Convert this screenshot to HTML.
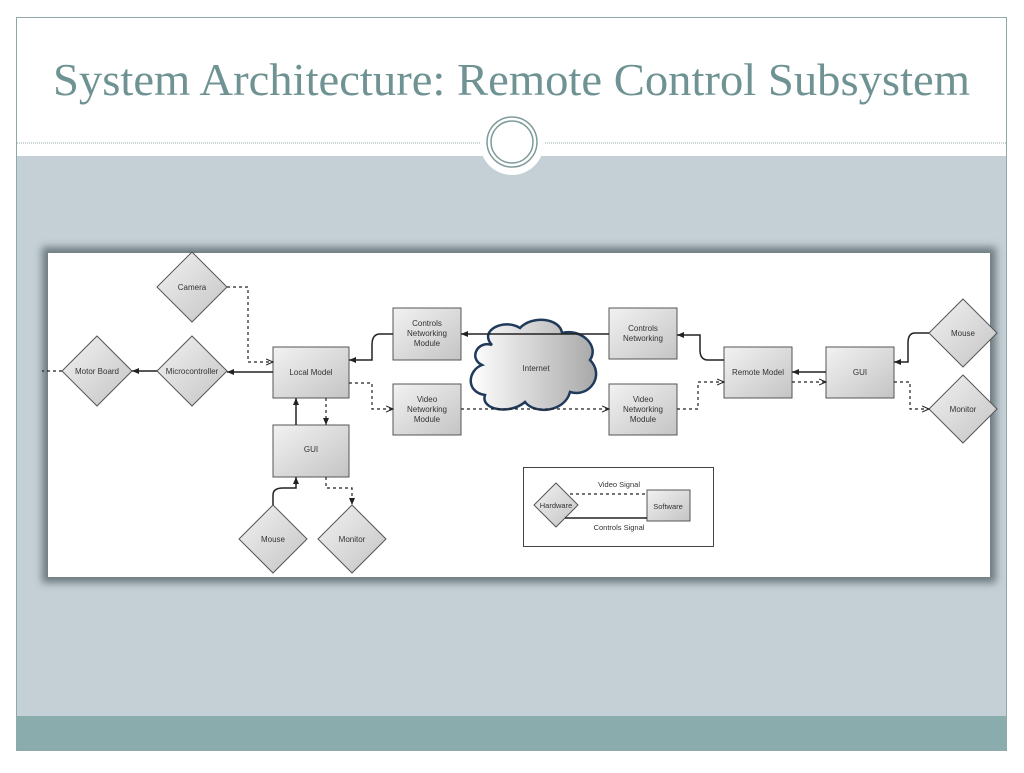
<!DOCTYPE html>
<html><head><style>
body{margin:0;width:1024px;height:768px;background:#fff;overflow:hidden;font-family:"Liberation Sans",sans-serif}
</style></head><body>
<svg width="1024" height="768" viewBox="0 0 1024 768" xmlns="http://www.w3.org/2000/svg">
<defs>
<linearGradient id="g" x1="0" y1="0" x2="1" y2="1"><stop offset="0" stop-color="#f2f2f2"/><stop offset="1" stop-color="#c4c4c4"/></linearGradient>
<linearGradient id="cg" x1="0" y1="0" x2="1" y2="0"><stop offset="0" stop-color="#ffffff"/><stop offset="1" stop-color="#a8a8a8"/></linearGradient>
<filter id="bl"><feGaussianBlur stdDeviation="4"/></filter>
<marker id="a" markerWidth="8" markerHeight="8" refX="7" refY="4" orient="auto" markerUnits="userSpaceOnUse"><path d="M0,1 L7,4 L0,7 Z" fill="#222"/></marker>
<marker id="o" markerWidth="8" markerHeight="8" refX="7" refY="4" orient="auto" markerUnits="userSpaceOnUse"><path d="M0,1 L7,4 L0,7" fill="none" stroke="#222" stroke-width="1"/></marker>
</defs>
<rect x="16.5" y="17.5" width="990" height="733" fill="#fff" stroke="#8fa9a9"/>
<rect x="17" y="156" width="989" height="560" fill="#c4d0d6"/>
<rect x="17" y="716" width="989" height="34" fill="#8aacac"/>
<line x1="17" y1="143" x2="1006" y2="143" stroke="#9aabab" stroke-dasharray="1,1"/>
<circle cx="512" cy="143" r="32" fill="#fff"/>
<circle cx="512" cy="142" r="25" fill="none" stroke="#7f9a9a" stroke-width="1.5"/>
<circle cx="512" cy="142" r="21" fill="none" stroke="#7f9a9a" stroke-width="1.5"/>
<text x="53" y="95" textLength="917" lengthAdjust="spacingAndGlyphs" font-family="Liberation Serif,serif" font-size="45" fill="#6f9292">System Architecture: Remote Control Subsystem</text>
<rect x="42" y="247" width="954" height="336" fill="#6d7a80" filter="url(#bl)"/>
<rect x="48" y="253" width="942" height="324" fill="#fff"/>
<g stroke="#555" stroke-width="1" fill="url(#g)">
<polygon points="192,252 227,287 192,322 157,287"/>
<polygon points="97,336 132,371 97,406 62,371"/>
<polygon points="192,336 227,371 192,406 157,371"/>
<rect x="273" y="347" width="76" height="51"/>
<rect x="273" y="425" width="76" height="52"/>
<polygon points="273,505 307,539 273,573 239,539"/>
<polygon points="352,505 386,539 352,573 318,539"/>
<rect x="393" y="308" width="68" height="52"/>
<rect x="393" y="384" width="68" height="51"/>
<rect x="609" y="308" width="68" height="51"/>
<rect x="609" y="384" width="68" height="51"/>
<rect x="724" y="347" width="68" height="51"/>
<rect x="826" y="347" width="68" height="51"/>
<polygon points="963,299 997,333 963,367 929,333"/>
<polygon points="963,375 997,409 963,443 929,409"/>
</g>
<path d="M492,345 C478,330 505,318 520,328 C532,315 560,318 562,333 C580,328 600,345 590,360 C605,375 590,398 570,392 C565,412 535,415 525,402 C510,415 480,410 485,395 C465,392 468,370 482,365 C468,358 478,340 492,345 Z" fill="url(#cg)" stroke="#1f3a5a" stroke-width="2.5"/>
<g font-size="8" fill="#333" text-anchor="middle">
<text x="192" y="290">Camera</text>
<text x="97" y="374">Motor Board</text>
<text x="192" y="374">Microcontroller</text>
<text x="311" y="375">Local Model</text>
<text x="311" y="452">GUI</text>
<text x="273" y="542">Mouse</text>
<text x="352" y="542">Monitor</text>
<text x="427" y="326">Controls</text><text x="427" y="336">Networking</text><text x="427" y="346">Module</text>
<text x="427" y="402">Video</text><text x="427" y="412">Networking</text><text x="427" y="422">Module</text>
<text x="536" y="371">Internet</text>
<text x="643" y="331">Controls</text><text x="643" y="341">Networking</text>
<text x="643" y="402">Video</text><text x="643" y="412">Networking</text><text x="643" y="422">Module</text>
<text x="758" y="375">Remote Model</text>
<text x="860" y="375">GUI</text>
<text x="963" y="336">Mouse</text>
<text x="963" y="412">Monitor</text>
</g>
<g fill="none" stroke="#222" stroke-width="1.5">
<path d="M273,372 H227" marker-end="url(#a)"/>
<path d="M157,371 H132" marker-end="url(#a)"/>
<path d="M393,334 H380 Q372,334 372,345 V360 H349" marker-end="url(#a)"/>
<path d="M609,334 H461" marker-end="url(#a)"/>
<path d="M724,360 H708 Q700,360 700,350 V335 H677" marker-end="url(#a)"/>
<path d="M826,372 H792" marker-end="url(#a)"/>
<path d="M929,333 H915 Q908,333 908,343 V362 H894" marker-end="url(#a)"/>
<path d="M296,425 V398" marker-end="url(#a)"/>
<path d="M273,505 V495 Q273,488 283,488 H296 V477" marker-end="url(#a)"/>
</g>
<g fill="none" stroke="#222" stroke-width="1.2" stroke-dasharray="3,3">
<path d="M227,287 H248 V362 H273" marker-end="url(#o)"/>
<path d="M62,371 H42"/>
<path d="M349,383 H372 V409 H393" marker-end="url(#o)"/>
<path d="M326,398 V425" marker-end="url(#a)"/>
<path d="M326,477 V488 H352 V505" marker-end="url(#a)"/>
<path d="M461,409 H609" marker-end="url(#o)"/>
<path d="M677,409 H698 V382 H724" marker-end="url(#o)"/>
<path d="M792,382 H826" marker-end="url(#o)"/>
<path d="M894,382 H910 V409 H929" marker-end="url(#o)"/>
</g>
<rect x="523.5" y="467.5" width="190" height="79" fill="#fff" stroke="#444"/>
<polygon points="556,483 578,505 556,527 534,505" fill="url(#g)" stroke="#555"/>
<rect x="647" y="490" width="43" height="31" fill="url(#g)" stroke="#555"/>
<path d="M570,494 H647" stroke="#222" stroke-width="1.2" stroke-dasharray="3,3" fill="none"/>
<path d="M565,518 H647" stroke="#222" stroke-width="1.5" fill="none"/>
<g font-size="7.5" fill="#333" text-anchor="middle">
<text x="556" y="508">Hardware</text>
<text x="668" y="509">Software</text>
<text x="619" y="487">Video Signal</text>
<text x="619" y="530">Controls Signal</text>
</g>
</svg>
</body></html>
